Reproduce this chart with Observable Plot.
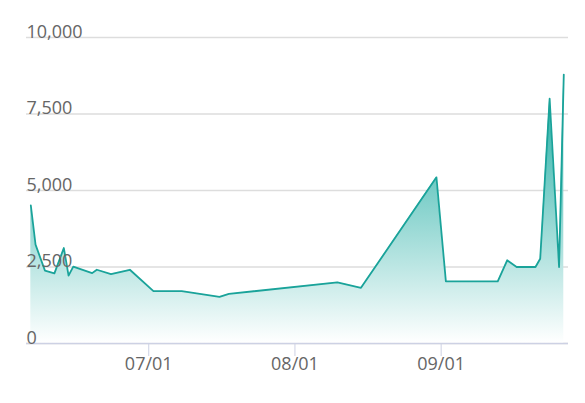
<!DOCTYPE html>
<html>
<head>
<meta charset="utf-8">
<script src="https://cdn.jsdelivr.net/npm/d3@7"></script>
<script src="https://cdn.jsdelivr.net/npm/@observablehq/plot@0.6"></script>
<style>
  html, body { margin: 0; padding: 0; background: #fff; }
</style>
</head>
<body>
<div id="chart"></div>
<script>
const dates = ["2023-06-06","2023-06-07","2023-06-09","2023-06-11","2023-06-13","2023-06-14","2023-06-15","2023-06-19","2023-06-20","2023-06-23","2023-06-27","2023-07-02","2023-07-08","2023-07-16","2023-07-18","2023-08-10","2023-08-15","2023-08-31","2023-09-02","2023-09-13","2023-09-15","2023-09-17","2023-09-21","2023-09-22","2023-09-24","2023-09-26","2023-09-27"];
const values = [4510, 3230, 2380, 2290, 3120, 2220, 2510, 2300, 2410, 2270, 2410, 1710, 1710, 1525, 1620, 2000, 1820, 5430, 2030, 2030, 2720, 2500, 2500, 2770, 8000, 2500, 8790];
const yTicks = [0, 2500, 5000, 7500, 10000];
const xTicks = ["2023-07-01", "2023-08-01", "2023-09-01"];

const data = dates.map((d, i) => ({date: new Date(d), value: values[i]}));

const gradientDefs = () => {
  const ns = "http://www.w3.org/2000/svg";
  const defs = document.createElementNS(ns, "defs");
  const g = document.createElementNS(ns, "linearGradient");
  g.setAttribute("id", "areaGrad");
  g.setAttribute("x1", "0"); g.setAttribute("y1", "0");
  g.setAttribute("x2", "0"); g.setAttribute("y2", "1");
  [["0%", "#14a89e", 1], ["100%", "#ffffff", 1]].forEach(([o, c, op]) => {
    const s = document.createElementNS(ns, "stop");
    s.setAttribute("offset", o);
    s.setAttribute("stop-color", c);
    s.setAttribute("stop-opacity", op);
    g.appendChild(s);
  });
  defs.appendChild(g);
  return defs;
};

const chart = Plot.plot({
  width: 585,
  height: 403,
  marginLeft: 26,
  marginRight: 17,
  marginTop: 37,
  marginBottom: 60,
  style: {fontFamily: "'Open Sans', sans-serif", fontSize: "18px", color: "#666", background: "#fff"},
  x: {type: "utc", domain: [new Date(Date.UTC(2023, 5, 5, 2)), new Date(Date.UTC(2023, 8, 28))]},
  y: {domain: [0, 10000], axis: null},
  marks: [
    gradientDefs,
    Plot.gridY(yTicks, {stroke: "#dddddd", strokeOpacity: 1, strokeWidth: 1.3}),
    Plot.areaY(data, {x: "date", y: "value", fill: "url(#areaGrad)"}),
    Plot.lineY(data, {x: "date", y: "value", stroke: "#1aa39a", strokeWidth: 1.8}),
    Plot.ruleY([0], {stroke: "#cdd1e4", strokeWidth: 1.5}),
    Plot.axisX(xTicks.map(d => new Date(d)), {
      tickFormat: d3.utcFormat("%m/%d"),
      tickSize: 13,
      tickPadding: 1,
      stroke: "#cdd1e4",
      fill: "#666",
      fontSize: 18
    }),
    Plot.text(yTicks, {
      y: d => d,
      text: d => d3.format(",")(d),
      frameAnchor: "left",
      textAnchor: "start",
      lineAnchor: "bottom",
      dy: 0,
      fill: "#666",
      fontSize: 18
    })
  ]
});
document.getElementById("chart").appendChild(chart);
</script>
</body>
</html>
